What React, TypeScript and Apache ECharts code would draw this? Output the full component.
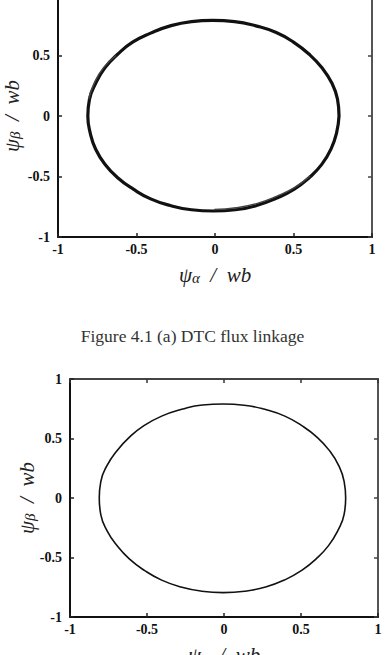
import React, { useEffect, useRef } from "react";
import * as echarts from "echarts";

// Tick values shared by both plots
const tickValues = [-1, -0.5, 0, 0.5, 1];

// (a) DTC flux linkage trace (psi_alpha, psi_beta)
const dtcAlpha = [0.79, 0.78, 0.745, 0.68, 0.6, 0.5, 0.39, 0.26, 0.125, -0.015, -0.15, -0.285, -0.41, -0.525, -0.62, -0.7, -0.76, -0.8, -0.81, -0.795, -0.76, -0.7, -0.62, -0.52, -0.41, -0.285, -0.15, -0.01, 0.13, 0.265, 0.39, 0.505, 0.6, 0.68, 0.74, 0.775, 0.79];
const dtcBeta = [0.0, 0.14, 0.27, 0.4, 0.51, 0.61, 0.69, 0.745, 0.78, 0.79, 0.78, 0.745, 0.685, 0.61, 0.51, 0.4, 0.27, 0.135, 0.0, -0.14, -0.275, -0.4, -0.51, -0.605, -0.685, -0.74, -0.775, -0.785, -0.775, -0.74, -0.68, -0.605, -0.51, -0.4, -0.27, -0.135, 0.0];
// second pass of the DTC trace, visible where the loop doubles
const dtcAlpha2 = [-0.805, -0.77, -0.71, -0.63];
const dtcBeta2 = [0.14, 0.27, 0.4, 0.5];
const dtcAlpha3 = [-0.005, 0.135, 0.27, 0.395, 0.508, 0.605];
const dtcBeta3 = [-0.772, -0.758, -0.722, -0.662, -0.59, -0.495];

// second figure trace (psi_alpha, psi_beta)
const figAlpha = [0.79, 0.78, 0.745, 0.685, 0.605, 0.505, 0.395, 0.265, 0.13, -0.005, -0.14, -0.275, -0.405, -0.52, -0.615, -0.695, -0.76, -0.8, -0.81, -0.8, -0.76, -0.695, -0.615, -0.515, -0.405, -0.28, -0.145, -0.005, 0.135, 0.27, 0.395, 0.505, 0.6, 0.68, 0.74, 0.78, 0.79];
const figBeta = [0.0, 0.14, 0.272, 0.398, 0.51, 0.608, 0.688, 0.745, 0.78, 0.79, 0.782, 0.745, 0.688, 0.608, 0.51, 0.398, 0.272, 0.138, 0.0, -0.14, -0.274, -0.4, -0.512, -0.61, -0.69, -0.748, -0.783, -0.795, -0.783, -0.748, -0.688, -0.608, -0.51, -0.398, -0.272, -0.138, 0.0];

const caption = "Figure 4.1 (a) DTC flux linkage";

const pairs = (xs: number[], ys: number[]) => xs.map((x, i) => [x, ys[i]]);

const labelFont = {
  fontFamily: "Liberation Serif",
  fontWeight: "bold" as const,
  fontSize: 14,
  color: "#111",
};

const nameRich = {
  g: { fontFamily: "Liberation Serif", fontStyle: "italic", fontSize: 21, color: "#222" },
  s: { fontFamily: "Liberation Serif", fontStyle: "italic", fontSize: 15, color: "#222", padding: [6, 0, 0, 0] },
};

const fmt = (v: number) => String(tickValues.find((t) => t === v) ?? v);

function axisSet(gridIndex: number, yNameGap: number) {
  const base = {
    gridIndex,
    type: "value" as const,
    min: -1,
    max: 1,
    interval: 0.5,
    splitLine: { show: false },
  };
  const x = [
    {
      ...base,
      position: "bottom",
      axisLine: { show: true, onZero: false, lineStyle: { color: "#111", width: 2 } },
      axisTick: { show: true, inside: true, length: 4, lineStyle: { color: "#222", width: 1.5 } },
      axisLabel: { ...labelFont, margin: 5, formatter: fmt },
      name: "{g|ψ}{s|α}{g|  /  wb}",
      nameLocation: "middle",
      nameGap: 27,
      nameTextStyle: { rich: nameRich },
    },
    {
      ...base,
      position: "top",
      axisLine: { show: true, onZero: false, lineStyle: { color: "#444", width: 2 } },
      axisTick: { show: true, inside: true, length: 4, lineStyle: { color: "#333", width: 1.5 } },
      axisLabel: { show: false },
    },
  ];
  const y = [
    {
      ...base,
      position: "left",
      axisLine: { show: true, onZero: false, lineStyle: { color: "#111", width: 2 } },
      axisTick: { show: true, inside: true, length: 4, lineStyle: { color: "#222", width: 1.5 } },
      axisLabel: { ...labelFont, margin: 8, formatter: fmt },
      name: "{g|ψ}{s|β}{g|  /  wb}",
      nameLocation: "middle",
      nameGap: yNameGap,
      nameMoveOverlap: false,
      nameTextStyle: { rich: nameRich },
    },
    {
      ...base,
      position: "right",
      axisLine: { show: true, onZero: false, lineStyle: { color: "#555", width: 2 } },
      axisTick: { show: true, inside: true, length: 4, lineStyle: { color: "#444", width: 1.5 } },
      axisLabel: { show: false },
    },
  ];
  return { x, y };
}

export default function App() {
  const ref = useRef<HTMLDivElement>(null);
  useEffect(() => {
    if (!ref.current) return;
    const chart = echarts.init(ref.current, undefined, { renderer: "svg" });
    const a1 = axisSet(0, 36);
    const a2 = axisSet(1, 33);
    const lineBase = { type: "line" as const, showSymbol: false, smooth: true, clip: false, silent: true };
    chart.setOption({
      animation: false,
      backgroundColor: "#fff",
      title: {
        text: caption,
        left: "center",
        top: 322,
        textStyle: { fontFamily: "Liberation Serif", fontWeight: "normal", fontSize: 17.5, color: "#333" },
      },
      grid: [
        { left: 58, top: -5, width: 314, height: 242, outerBoundsMode: "none", containLabel: false },
        { left: 70, top: 379, width: 308, height: 238, outerBoundsMode: "none", containLabel: false },
      ],
      xAxis: [...a1.x, ...a2.x],
      yAxis: [...a1.y, ...a2.y],
      series: [
        { ...lineBase, xAxisIndex: 0, yAxisIndex: 0, data: pairs(dtcAlpha, dtcBeta), lineStyle: { color: "#111", width: 3.2 } },
        { ...lineBase, xAxisIndex: 0, yAxisIndex: 0, data: pairs(dtcAlpha2, dtcBeta2), lineStyle: { color: "#444", width: 1.5 } },
        { ...lineBase, xAxisIndex: 0, yAxisIndex: 0, data: pairs(dtcAlpha3, dtcBeta3), lineStyle: { color: "#444", width: 1.5 } },
        { ...lineBase, xAxisIndex: 2, yAxisIndex: 2, data: pairs(figAlpha, figBeta), lineStyle: { color: "#111", width: 1.6 } },
      ],
    });
    return () => chart.dispose();
  }, []);
  return <div ref={ref} style={{ position: "fixed", left: 0, top: 0, width: 385, height: 655 }} />;
}
